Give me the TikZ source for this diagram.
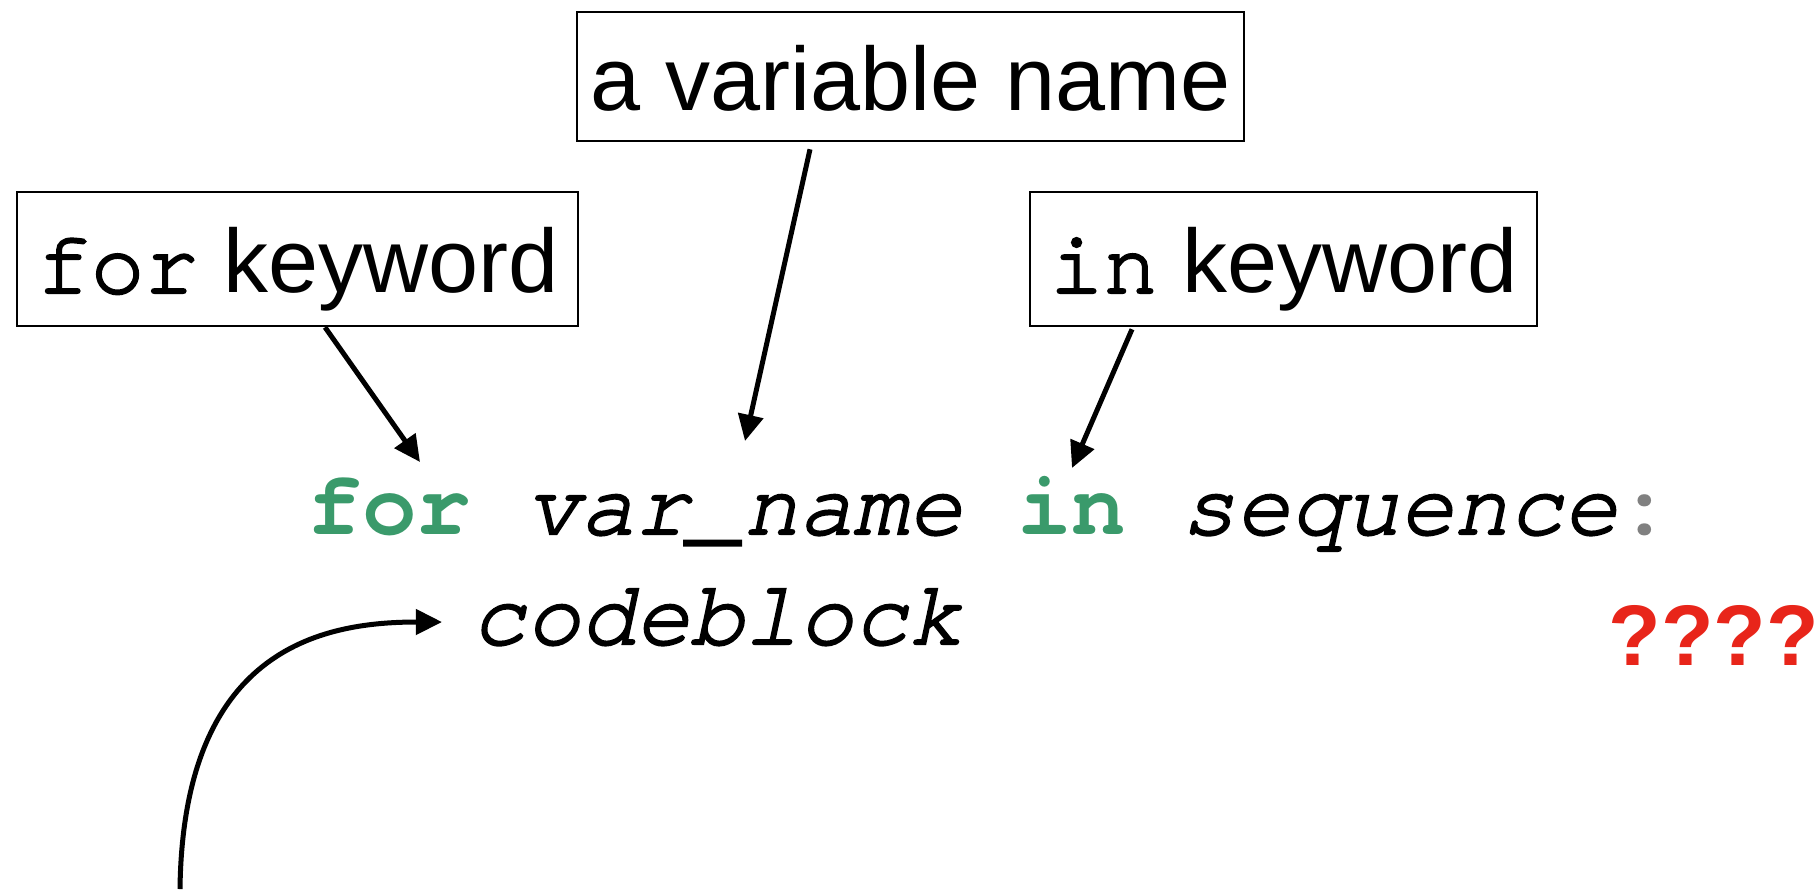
\documentclass[tikz,border=0pt]{standalone}
\usepackage{fontspec}
\setmainfont{Liberation Sans}
\newfontfamily\codefont{TeX Gyre Cursor}[UprightFeatures={FakeBold=2.5}, ItalicFeatures={FakeBold=2.5}]
\usetikzlibrary{arrows.meta,calc}
\definecolor{kwgreen}{HTML}{3A9A6B}
\definecolor{qred}{HTML}{E8251A}
\definecolor{colgray}{HTML}{808080}
\begin{document}
\begin{tikzpicture}[x=0.4pt,y=-0.4pt,
  labelbox/.style={draw, line width=0.9pt, inner sep=0pt, anchor=north west,
    font=\fontsize{36pt}{40pt}\selectfont, text height=28.5pt, text depth=1.5pt},
  codeline/.style={inner sep=0pt, anchor=base west, font=\codefont\fontsize{36.4pt}{40pt}\selectfont},
  pointer/.style={line width=2pt, -{Triangle[length=10.5pt,width=10pt]}}
]
\useasboundingbox (0,0) rectangle (1818,889);
\node[labelbox, minimum width=266.8pt, minimum height=51.6pt] (varbox) at (576,11) {a variable name};
\node[labelbox, minimum width=224.4pt, minimum height=53.6pt] (forbox) at (16,191) {{\codefont for} keyword};
\node[labelbox, minimum width=202.8pt, minimum height=53.6pt] (inbox) at (1029,191) {{\codefont in} keyword};
\node[codeline] (line1) at (307,534) {{\bfseries\color{kwgreen}for} {\itshape var\_name} {\bfseries\color{kwgreen}in} {\itshape sequence}{\bfseries\color{colgray}:}};
\node[codeline] (line2) at (471,644) {\itshape codeblock};
\node[inner sep=0pt, anchor=base west, text=qred, font=\bfseries\fontsize{34.4pt}{38pt}\selectfont] (qq) at (1608,665) {????};
\coordinate (fortip) at (420,462);
\coordinate (vartip) at (745,441);
\coordinate (intip) at (1072,468);
\coordinate (cstart) at (180,889);
\coordinate (ctip) at (442,622);
\draw[pointer] ($(forbox.south west)+(309,0)$) -- (fortip);
\draw[pointer] ($(varbox.south west)+(234,7)$) -- (vartip);
\draw[pointer] ($(inbox.south west)+(103,2)$) -- (intip);
\draw[pointer] (cstart) .. controls (183,650) and (320,622) .. (ctip);
\end{tikzpicture}
\end{document}
